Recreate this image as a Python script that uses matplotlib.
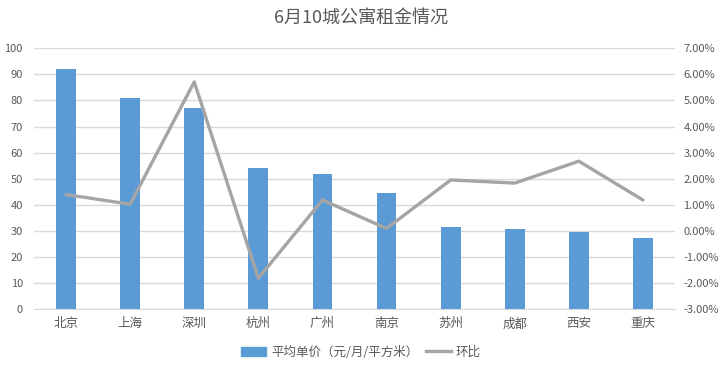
import matplotlib
matplotlib.use("Agg")
import matplotlib.pyplot as plt
from matplotlib.ticker import FuncFormatter
from matplotlib.lines import Line2D
from matplotlib.patches import Patch

plt.rcParams['font.family'] = ['Noto Sans CJK SC', 'DejaVu Sans']

# data
cities = ['北京', '上海', '深圳', '杭州', '广州', '南京', '苏州', '成都', '西安', '重庆']
avg_price = [92.0, 80.8, 77.0, 54.0, 51.7, 44.4, 31.4, 30.6, 29.6, 27.2]
mom = [1.39, 1.02, 5.71, -1.82, 1.18, 0.09, 1.95, 1.83, 2.67, 1.18]  # percent

text_color = '#595959'
bar_color = '#5B9BD5'
line_color = '#A5A5A5'
grid_color = '#D9D9D9'

fig = plt.figure(figsize=(7.22, 3.72), dpi=100)
ax = fig.add_axes([34 / 722, (372 - 309) / 372, (675 - 34) / 722, (309 - 48.3) / 372])

x = range(len(cities))
ax.bar(x, avg_price, width=0.31, color=bar_color, zorder=2)
ax.set_ylim(0, 100)
ax.set_yticks(range(0, 101, 10))
ax.set_xlim(-0.5, len(cities) - 0.5)
ax.set_xticks(list(x))
ax.set_xticklabels(cities, fontsize=9, color=text_color)
ax.yaxis.grid(True, color=grid_color, linewidth=1)
ax.set_axisbelow(True)

# month-on-month change on the right axis
ax2 = ax.twinx()
ax2.plot(x, mom, color=line_color, linewidth=2.4, zorder=3, solid_capstyle='round')
ax2.set_ylim(-3, 7)
ax2.set_yticks(range(-3, 8))
ax2.yaxis.set_major_formatter(FuncFormatter(lambda v, p: f'{v:.2f}%'))

for a in (ax, ax2):
    for s in a.spines.values():
        s.set_visible(False)
    a.tick_params(length=0, labelsize=8, colors=text_color)
ax.spines['bottom'].set_visible(True)
ax.spines['bottom'].set_color(grid_color)
ax.tick_params(axis='x', labelsize=9, pad=6)
ax.tick_params(axis='y', pad=8)
ax2.tick_params(axis='y', pad=6)

fig.text(0.5, 1 - 18 / 372, '6月10城公寓租金情况', ha='center', va='center',
         fontsize=13, color=text_color)

handles = [Patch(color=bar_color), Line2D([0], [0], color=line_color, linewidth=2.4)]
fig.legend(handles, ['平均单价（元/月/平方米）', '环比'], loc='center',
           bbox_to_anchor=(0.5, 1 - 352 / 372), ncol=2, frameon=False,
           fontsize=9, labelcolor=text_color, handlelength=2.0,
           handletextpad=0.4, columnspacing=0.6)

fig.savefig('out.png', dpi=100)
